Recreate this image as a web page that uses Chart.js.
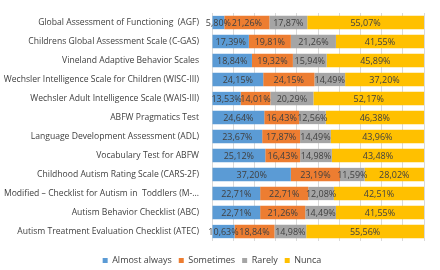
<!DOCTYPE html>
<html>
<head>
<meta charset="utf-8">
<script src="https://cdn.jsdelivr.net/npm/chart.js@4"></script>
<style>
  html, body { margin: 0; padding: 0; background: #fff; }
  #wrap { width: 440px; height: 270px; }
</style>
</head>
<body>
<div id="wrap"><canvas id="chart" width="440" height="270"></canvas></div>
<script>
// Categories (top to bottom)
const scales = [
    'Global Assessment of Functioning  (AGF)',
    'Childrens Global Assessment Scale (C-GAS)',
    'Vineland Adaptive Behavior Scales',
    'Wechsler Intelligence Scale for Children (WISC-III)',
    'Wechsler Adult Intelligence Scale (WAIS-III)',
    'ABFW Pragmatics Test',
    'Language Development Assessment (ADL)',
    'Vocabulary Test for ABFW',
    'Childhood Autism Rating Scale (CARS-2F)',
    'Modified \u2013 Checklist for Autism in  Toddlers (M-...',
    'Autism Behavior Checklist (ABC)',
    'Autism Treatment Evaluation Checklist (ATEC)'
];

// Series values (%)
const almostAlways = [5.80, 17.39, 18.84, 24.15, 13.53, 24.64, 23.67, 25.12, 37.20, 22.71, 22.71, 10.63];
const sometimes    = [21.26, 19.81, 19.32, 24.15, 14.01, 16.43, 17.87, 16.43, 23.19, 22.71, 21.26, 18.84];
const rarely       = [17.87, 21.26, 15.94, 14.49, 20.29, 12.56, 14.49, 14.98, 11.59, 12.08, 14.49, 14.98];
const nunca        = [55.07, 41.55, 45.89, 37.20, 52.17, 46.38, 43.96, 43.48, 28.02, 42.51, 41.55, 55.56];

const FONT = 'Open Sans';

// Draw the value labels in the middle of each bar segment
const barLabels = {
    id: 'barLabels',
    afterDatasetsDraw(chart) {
        const ctx = chart.ctx;
        ctx.save();
        ctx.font = '9px "' + FONT + '"';
        ctx.fillStyle = '#404040';
        ctx.textAlign = 'center';
        ctx.textBaseline = 'middle';
        chart.data.datasets.forEach((ds, i) => {
            const meta = chart.getDatasetMeta(i);
            meta.data.forEach((bar, j) => {
                const v = ds.data[j];
                const txt = v.toFixed(2).replace('.', ',') + '%';
                const cx = (bar.x + bar.base) / 2;
                ctx.fillText(txt, cx, bar.y + 0.5);
            });
        });
        ctx.restore();
    }
};

new Chart(document.getElementById('chart'), {
    type: 'bar',
    data: {
        labels: scales,
        datasets: [
            { label: 'Almost always', data: almostAlways, backgroundColor: '#5B9BD5' },
            { label: 'Sometimes', data: sometimes, backgroundColor: '#ED7D31' },
            { label: 'Rarely', data: rarely, backgroundColor: '#A5A5A5' },
            { label: 'Nunca', data: nunca, backgroundColor: '#FFC000' }
        ]
    },
    options: {
        indexAxis: 'y',
        responsive: false,
        animation: false,
        datasets: {
            bar: { categoryPercentage: 1, barPercentage: 0.7 }
        },
        layout: { padding: { top: 13, right: 16, left: 0, bottom: -5 } },
        plugins: {
            legend: {
                position: 'bottom',
                labels: {
                    boxWidth: 5,
                    boxHeight: 5,
                    padding: 7,
                    color: '#404040',
                    font: { family: FONT, size: 9 }
                }
            },
            tooltip: { enabled: false }
        },
        scales: {
            x: {
                stacked: true,
                min: 0,
                max: 100,
                ticks: { display: false, stepSize: 10 },
                grid: { color: '#d9d9d9', drawTicks: false },
                border: { display: false },
                afterFit(axis) { axis.height = 8; }
            },
            y: {
                stacked: true,
                grid: { display: false },
                border: { display: false },
                ticks: {
                    color: '#404040',
                    padding: 5,
                    font: { family: FONT, size: 8.6 }
                }
            }
        }
    },
    plugins: [barLabels]
});
</script>
</body>
</html>
